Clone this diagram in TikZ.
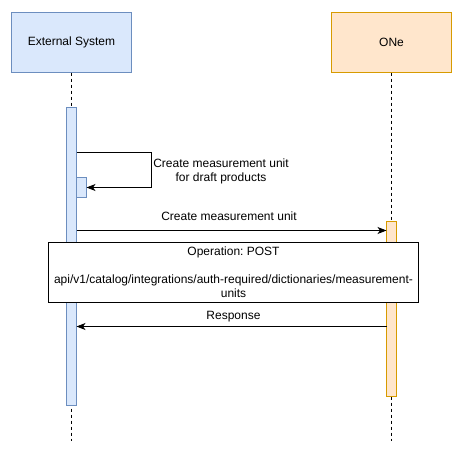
\documentclass[tikz,border=0pt]{standalone}
\usepackage{fontspec}
\setmainfont{Liberation Sans}
\usetikzlibrary{arrows.meta}
\frenchspacing
\definecolor{bluefill}{HTML}{DAE8FC}
\definecolor{bluedraw}{HTML}{6C8EBF}
\definecolor{orfill}{HTML}{FFE6CC}
\definecolor{ordraw}{HTML}{D79B00}
\tikzset{
  txt/.style={font=\fontsize{12}{14}\selectfont, align=center, inner sep=0pt},
  lifeline/.style={dash pattern=on 3pt off 3pt, line width=0.8pt},
  msg/.style={line width=0.8pt, -{Stealth[length=9pt,width=7pt,inset=2.5pt]}},
  partbox/.style={line width=0.9pt}
}
\begin{document}
\begin{tikzpicture}[x=1pt,y=-1pt]
\useasboundingbox (0,0) rectangle (457,456);
% participants
\filldraw[partbox, fill=bluefill, draw=bluedraw] (11.5,12.5) rectangle (131.5,72.5);
\node[txt] (ext) at (71.5,42.5) {External System};
\filldraw[partbox, fill=orfill, draw=ordraw] (331.5,12.5) rectangle (451.5,72.5);
\node[txt] (one) at (391.5,42.5) {ONe};
% lifelines
\coordinate (extTop) at (71.5,72.5);
\coordinate (extBot) at (71.5,441);
\coordinate (oneTop) at (391.5,72.5);
\coordinate (oneBot) at (391.5,441);
\draw[lifeline] (extTop) -- (extBot);
\draw[lifeline] (oneTop) -- (oneBot);
% activations
\filldraw[partbox, fill=bluefill, draw=bluedraw] (66.5,107.5) rectangle (76.5,405);
\filldraw[partbox, fill=bluefill, draw=bluedraw] (76.5,177.5) rectangle (86.5,197.5);
\filldraw[partbox, fill=orfill, draw=ordraw] (386.5,221) rectangle (396.5,396);
% self message
\coordinate (s1) at (76.5,152.5);
\coordinate (s2) at (151,152.5);
\coordinate (s3) at (151,187.5);
\coordinate (s4) at (86.5,187.5);
\draw[msg] (s1) -- (s2) -- (s3) -- (s4);
\node[txt] (selflbl) at (221,171) {Create measurement unit\\for draft products};
% create message
\coordinate (c1) at (76.5,230.5);
\coordinate (c2) at (386.5,230.5);
\draw[msg] (c1) -- (c2);
\node[txt] (createlbl) at (229,216.5) {Create measurement unit};
% operation note
\node[draw=black, fill=white, line width=0.9pt, minimum width=370pt, minimum height=59.5pt, inner sep=0pt] (op) at (233.5,272.5) {};
\node[txt] (optxt) at (233.5,272) {Operation: POST\\[14pt]api/v1/catalog/integrations/auth-required/dictionaries/measurement-\\units};
% response
\coordinate (r1) at (386.5,326.5);
\coordinate (r2) at (76.5,326.5);
\draw[msg] (r1) -- (r2);
\node[txt] (resplbl) at (233.5,316.5) {Response};
\end{tikzpicture}
\end{document}
